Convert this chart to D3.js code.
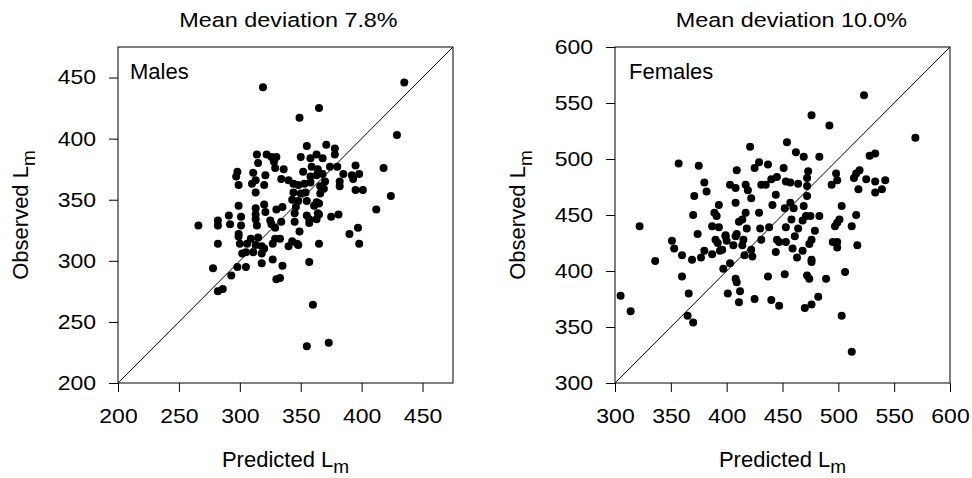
<!DOCTYPE html>
<html>
<head>
<meta charset="utf-8">
<script src="https://cdn.jsdelivr.net/npm/d3@7"></script>
<style>
  body { margin: 0; background: #fff; }
  svg { display: block; }
  text { font-family: "Liberation Sans", Arial, sans-serif; fill: #000; }
</style>
</head>
<body>
<svg id="chart" width="972" height="478"></svg>
<script>
// values (predicted vs observed Lm)
const malesPredicted = [319,435,365,349,429,418,424,355,371,378,378,314,322,326,330,315,328,350,358,363,
  368,374,380,359,364,395,352,329,336,298,297,311,321,334,340,358,363,368,370,385,
  392,398,393,382,382,299,310,313,320,344,348,353,358,366,369,344,350,354,366,395,
  401,313,343,348,355,363,365,299,313,320,330,335,346,361,412,364,313,321,345,355,
  357,365,375,381,266,282,282,291,292,301,301,299,299,313,314,325,326,329,334,345,
  349,357,363,282,300,306,309,315,313,318,320,327,329,333,343,347,340,348,365,390,
  397,398,302,305,311,318,318,327,335,357,278,298,305,293,330,333,282,286,360,355,373];
const malesObserved = [442,446,425,417,403,376,353,394,395,392,387,387,387,385,385,380,381,385,384,387,
  384,377,377,377,375,378,373,376,375,373,369,372,370,367,366,369,370,371,365,371,
  370,371,367,365,361,362,363,366,362,363,362,363,364,361,359,356,355,356,355,358,
  358,356,350,349,349,348,347,345,343,346,342,344,344,345,342,339,338,340,339,337,
  334,338,336,338,329,333,329,337,330,336,329,322,320,334,329,333,330,327,332,332,
  324,331,334,314,314,314,318,319,313,312,310,314,318,318,316,314,312,313,314,322,
  327,314,306,307,307,306,298,301,296,299,294,295,295,288,285,286,275,277,264,230,233];

const femalesPredicted = [523,476,492,569,454,421,462,469,483,528,533,357,375,409,425,429,437,451,473,498,
  519,516,514,525,533,542,380,382,403,408,417,419,422,431,435,440,445,453,457,464,
  472,472,472,494,499,518,533,539,371,393,408,444,441,457,452,460,469,503,370,389,
  391,411,414,417,429,438,430,418,409,408,399,393,387,374,351,353,360,369,377,380,
  387,390,392,394,396,399,400,406,415,414,416,422,423,431,445,444,447,453,453,458,
  461,459,464,463,468,468,471,475,479,474,476,476,476,483,495,499,499,497,499,501,
  512,516,517,397,403,336,360,408,409,412,401,411,425,437,440,447,452,472,474,489,
  482,476,470,506,503,512,305,314,366,365,370,322];
const femalesObserved = [557,539,530,519,515,511,506,502,502,503,505,496,494,490,492,497,495,492,489,487,
  490,487,483,482,480,481,479,471,477,474,477,472,465,477,477,482,484,480,479,478,
  483,476,467,477,481,473,470,473,467,459,461,468,459,461,456,456,458,458,450,452,
  449,444,446,452,452,439,438,438,433,431,432,439,440,433,427,420,414,410,412,418,
  415,428,425,418,419,431,427,423,428,423,414,419,413,428,428,417,426,426,439,446,
  431,420,438,412,418,445,449,449,436,424,428,410,408,449,426,426,421,440,443,446,
  440,450,423,402,407,409,395,393,390,382,380,372,375,395,374,369,397,396,393,393,
  377,370,367,399,360,328,378,364,380,360,354,440];

const malesTicks = [200, 250, 300, 350, 400, 450];
const femalesTicks = [300, 350, 400, 450, 500, 550, 600];
const malesDomain = [200, 475];
const femalesDomain = [300, 600];
const titles = ['Mean deviation 7.8%', 'Mean deviation 10.0%'];
const groupNames = ['Males', 'Females'];

/** One square scatter panel with a 1:1 line, R-style box and axes. */
class ScatterPanel {
    constructor(svg, opts) {
        this.svg = svg;
        this.opts = opts;
    }

    draw() {
        const o = this.opts;
        const x = d3.scaleLinear().domain(o.domain).range([o.left, o.right]);
        const y = d3.scaleLinear().domain(o.domain).range([o.bottom, o.top]);
        const g = this.svg.append('g');

        // 1:1 line
        g.append('line')
            .attr('x1', x(o.domain[0])).attr('y1', y(o.domain[0]))
            .attr('x2', x(o.domain[1])).attr('y2', y(o.domain[1]))
            .attr('stroke', '#000').attr('stroke-width', 1);

        g.append('g').selectAll('circle')
            .data(d3.zip(o.predicted, o.observed))
            .join('circle')
            .attr('cx', d => x(d[0]))
            .attr('cy', d => y(d[1]))
            .attr('r', 4)
            .attr('fill', '#000');

        g.append('rect')
            .attr('x', o.left).attr('y', o.top)
            .attr('width', o.right - o.left).attr('height', o.bottom - o.top)
            .attr('fill', 'none').attr('stroke', '#000').attr('stroke-width', 1);

        const xAxis = g.append('g')
            .attr('transform', `translate(0,${o.bottom})`)
            .call(d3.axisBottom(x).tickValues(o.ticks).tickSize(9).tickSizeOuter(0).tickPadding(17));
        const yAxis = g.append('g')
            .attr('transform', `translate(${o.left},0)`)
            .call(d3.axisLeft(y).tickValues(o.ticks).tickSize(9).tickSizeOuter(0).tickPadding(10));

        [xAxis, yAxis].forEach(a => {
            a.select('.domain').remove();
            a.attr('font-family', null).attr('font-size', null);
            a.selectAll('line').attr('stroke', '#000');
            a.selectAll('text').style('font-size', '20px').attr('transform', 'scale(1.15,1)');
        });

        const cx = (o.left + o.right) / 2;
        const cy = (o.top + o.bottom) / 2;

        g.append('text')
            .attr('transform', `translate(${cx + o.titleDx},${o.top - 20}) scale(1.2,1)`)
            .attr('text-anchor', 'middle')
            .style('font-size', '19.5px')
            .text(o.title);

        g.append('text')
            .attr('x', o.left + o.labelDx).attr('y', o.top + 32)
            .style('font-size', '22px')
            .text(o.name);

        const xl = g.append('text')
            .attr('x', cx).attr('y', o.bottom + 84)
            .attr('text-anchor', 'middle')
            .style('font-size', '22px');
        xl.append('tspan').text('Predicted L');
        xl.append('tspan').attr('dy', 6).style('font-size', '19px').text('m');

        const yl = g.append('text')
            .attr('transform', `translate(${o.left - 90},${cy}) rotate(-90)`)
            .attr('text-anchor', 'middle')
            .style('font-size', '22px');
        yl.append('tspan').text('Observed L');
        yl.append('tspan').attr('dy', 7).style('font-size', '19px').text('m');
    }
}

const svg = d3.select('#chart');

new ScatterPanel(svg, {
    predicted: malesPredicted, observed: malesObserved,
    domain: malesDomain, ticks: malesTicks,
    title: titles[0], name: groupNames[0],
    left: 118, right: 453, top: 47, bottom: 383, titleDx: 3, labelDx: 12
}).draw();

new ScatterPanel(svg, {
    predicted: femalesPredicted, observed: femalesObserved,
    domain: femalesDomain, ticks: femalesTicks,
    title: titles[1], name: groupNames[1],
    left: 615, right: 950, top: 47, bottom: 383, titleDx: 9, labelDx: 14
}).draw();
</script>
</body>
</html>
